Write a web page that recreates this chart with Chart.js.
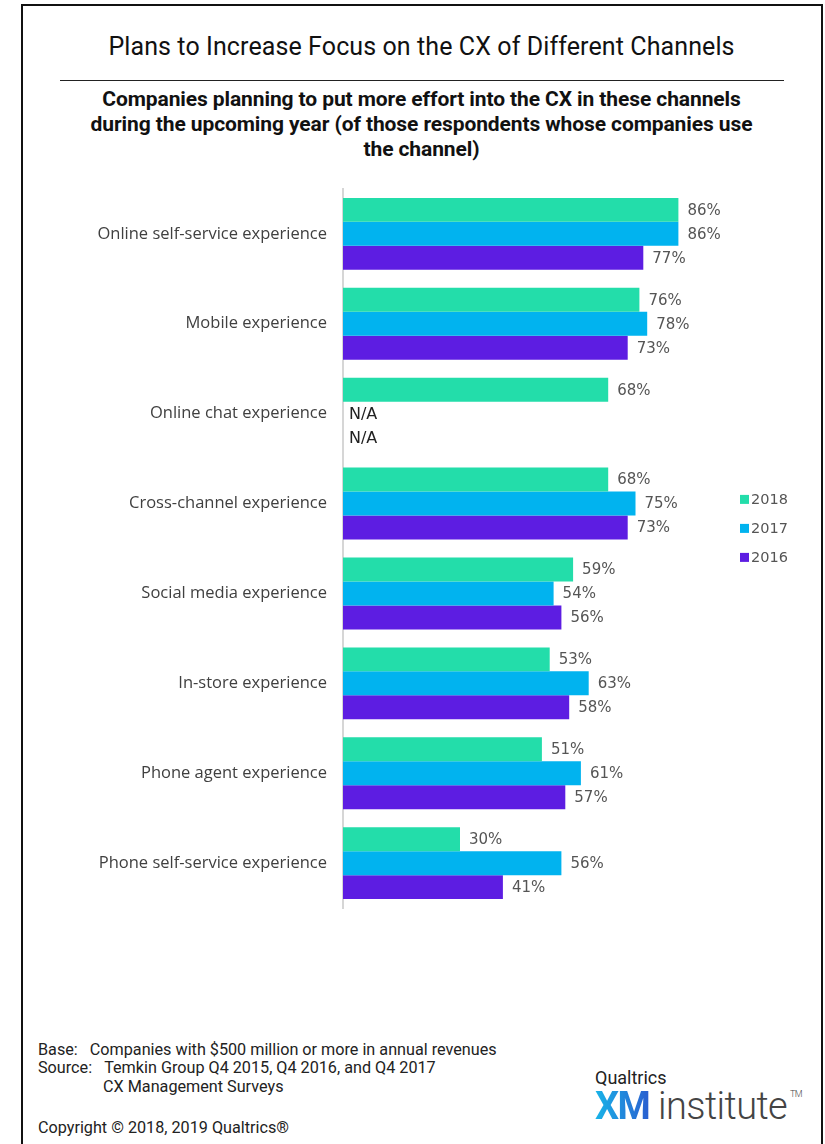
<!DOCTYPE html>
<html>
<head>
<meta charset="utf-8">
<script src="https://cdn.jsdelivr.net/npm/chart.js@4.4.1/dist/chart.umd.min.js"></script>
<style>
  body { margin: 0; background: #fff; width: 825px; height: 1144px; overflow: hidden; position: relative; font-family: Roboto, sans-serif; }
  .frame { position: absolute; left: 21px; top: 4px; width: 798px; height: 1200px; border: 2px solid #111; }
  .title { position: absolute; left: 0; width: 843px; top: 32px; text-align: center; font-size: 25px; color: #111; letter-spacing: 0.1px; }
  .rule { position: absolute; left: 60px; width: 724px; top: 80px; height: 0; border-top: 1.5px solid #222; }
  .subtitle { position: absolute; left: 0; width: 843px; top: 87px; text-align: center; font-size: 21px; font-weight: 700; line-height: 25px; color: #111; letter-spacing: -0.1px; }
  #wrap { position: absolute; left: 22px; top: 163px; width: 780px; height: 771px; }
  .foot { position: absolute; font-size: 16.2px; color: #222; line-height: 19px; }
  .logo1 { position: absolute; left: 595px; top: 1067px; font-size: 18px; color: #222; }
  .logo2 { position: absolute; left: 595px; top: 1084px; font-size: 38px; color: #444; font-weight: 300; letter-spacing: -0.6px; }
  .xm { font-weight: 700; background: linear-gradient(90deg, #19b4e8, #2a5fd0); -webkit-background-clip: text; background-clip: text; color: transparent; letter-spacing: -1.5px; }
  .tm { font-size: 9px; vertical-align: 22px; margin-left: 3px; }
</style>
</head>
<body>
<div class="frame"></div>
<div class="title">Plans to Increase Focus on the CX of Different Channels</div>
<div class="rule"></div>
<div class="subtitle">Companies planning to put more effort into the CX in these channels<br>during the upcoming year (of those respondents whose companies use<br>the channel)</div>
<div id="wrap"><canvas id="myChart"></canvas></div>
<div class="foot" style="left:38px; top:1040px;">Base:&nbsp;&nbsp;&nbsp;Companies with $500 million or more in annual revenues</div>
<div class="foot" style="left:38px; top:1058px;">Source:&nbsp;&nbsp;&nbsp;Temkin Group Q4 2015, Q4 2016, and Q4 2017</div>
<div class="foot" style="left:103px; top:1077px;">CX Management Surveys</div>
<div class="foot" style="left:38px; top:1118px;">Copyright © 2018, 2019 Qualtrics®</div>
<div class="logo1">Qualtrics</div>
<div class="logo2"><span class="xm">XM</span> institute<span class="tm">TM</span></div>
<script>
// Channels and survey results (% of respondents), null = channel not asked that year
const channels = [
    'Online self-service experience',
    'Mobile experience',
    'Online chat experience',
    'Cross-channel experience',
    'Social media experience',
    'In-store experience',
    'Phone agent experience',
    'Phone self-service experience'
];
const years = ['2018', '2017', '2016'];
const values2018 = [86, 76, 68, 68, 59, 53, 51, 30];
const values2017 = [86, 78, null, 75, 54, 63, 61, 56];
const values2016 = [77, 73, null, 73, 56, 58, 57, 41];
const colors = ['#23ddaa', '#01b3ef', '#5d1de2'];

// Value labels at the end of each bar, "N/A" where there is no value
const barLabels = {
    id: 'barLabels',
    afterDatasetsDraw(chart) {
        const ctx = chart.ctx;
        ctx.save();
        ctx.textBaseline = 'middle';
        ctx.textAlign = 'left';
        chart.data.datasets.forEach((ds, di) => {
            const meta = chart.getDatasetMeta(di);
            meta.data.forEach((bar, i) => {
                const v = ds.data[i];
                if (v === null) {
                    ctx.font = '16px "DejaVu Sans"';
                    ctx.fillStyle = '#222';
                    ctx.fillText('N/A', chart.chartArea.left + 6, bar.y + 1);
                } else {
                    ctx.font = '15px "DejaVu Sans"';
                    ctx.fillStyle = '#555';
                    ctx.fillText(v + '%', bar.x + 9, bar.y + 1);
                }
            });
        });
        ctx.restore();
    }
};

// Small legend to the right of the bars
const sideLegend = {
    id: 'sideLegend',
    afterDraw(chart) {
        const ctx = chart.ctx;
        const x = chart.chartArea.right + 7;
        ctx.save();
        ctx.textBaseline = 'middle';
        ctx.font = '14.5px "DejaVu Sans"';
        chart.data.datasets.forEach((ds, i) => {
            const y = chart.chartArea.top + 311 + i * 29;
            ctx.fillStyle = ds.backgroundColor;
            ctx.fillRect(x, y - 5, 9, 9);
            ctx.fillStyle = '#555';
            ctx.fillText(ds.label, x + 11, y);
        });
        ctx.restore();
    }
};

const ctx = document.getElementById('myChart').getContext('2d');
const myChart = new Chart(ctx, {
    type: 'bar',
    data: {
        labels: channels,
        datasets: [
            { label: years[0], data: values2018, backgroundColor: colors[0] },
            { label: years[1], data: values2017, backgroundColor: colors[1] },
            { label: years[2], data: values2016, backgroundColor: colors[2] }
        ]
    },
    options: {
        indexAxis: 'y',
        responsive: true,
        maintainAspectRatio: false,
        animation: false,
        categoryPercentage: 0.8,
        barPercentage: 1.0,
        layout: { padding: { top: 0, bottom: 0, right: 69 } },
        plugins: {
            legend: { display: false },
            tooltip: { enabled: false }
        },
        scales: {
            x: {
                display: false,
                min: 0,
                max: 100
            },
            y: {
                grid: { display: false, drawTicks: false },
                border: { display: true, color: '#d6d6d6', width: 2 },
                ticks: {
                    padding: 16,
                    color: '#404040',
                    font: { family: 'Open Sans', size: 16.5 }
                },
                afterFit(scale) { scale.width = 321; }
            }
        }
    },
    plugins: [barLabels, sideLegend]
});
</script>
</body>
</html>
